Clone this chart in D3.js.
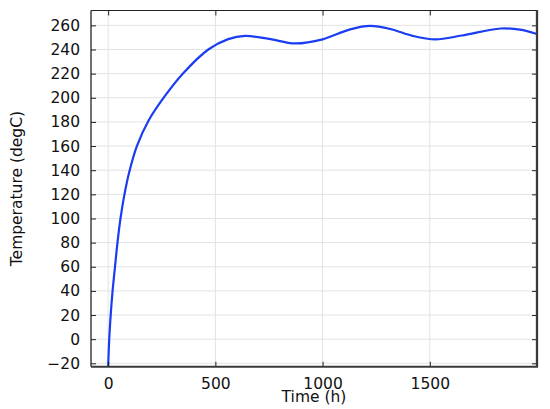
<!DOCTYPE html>
<html>
<head>
<meta charset="utf-8">
<script src="https://cdn.jsdelivr.net/npm/d3@7"></script>
<style>
body { margin: 0; background: #fff; }
text { font-family: "DejaVu Sans", sans-serif; fill: #111; }
</style>
</head>
<body>
<script>
// values
var timeH = [0, 5, 12, 21, 32, 43.5, 57.5, 76, 99, 134, 190, 265, 350, 467, 560, 639, 750, 872, 1000, 1129, 1223, 1320, 1420, 1526, 1650, 1830, 1920, 2000];
var tempC = [-23, 0, 20.6, 40.7, 60, 80, 100, 120, 139, 160, 181.6, 201.5, 220.3, 240, 248.6, 251.2, 248.8, 245, 248.4, 256.7, 259.5, 256.8, 251.3, 248.4, 251.6, 257.4, 256.4, 252.8];
var xTicks = [0, 500, 1000, 1500];
var yTicks = [-20, 0, 20, 40, 60, 80, 100, 120, 140, 160, 180, 200, 220, 240, 260];

var width = 550;
var height = 409;
// plot box (window.top is reserved, so use pTop etc.)
var pLeft = 91, pRight = 537, pTop = 10.5, pBottom = 366.7;

var svg = d3.select("body").append("svg")
  .attr("width", width)
  .attr("height", height);

var x = d3.scaleLinear()
  .domain([-80, 2000])
  .range([pLeft, pRight]);

var y = d3.scaleLinear()
  .domain([-22.8, 272.3])
  .range([pBottom, pTop]);

// grid
svg.append("g")
  .selectAll("line")
  .data(xTicks)
  .enter().append("line")
  .attr("x1", function (d) { return x(d); })
  .attr("x2", function (d) { return x(d); })
  .attr("y1", pTop)
  .attr("y2", pBottom)
  .attr("stroke", "#e3e3e3")
  .attr("stroke-width", 1);

svg.append("g")
  .selectAll("line")
  .data(yTicks)
  .enter().append("line")
  .attr("x1", pLeft)
  .attr("x2", pRight)
  .attr("y1", function (d) { return y(d); })
  .attr("y2", function (d) { return y(d); })
  .attr("stroke", "#e3e3e3")
  .attr("stroke-width", 1);

// curve
svg.append("clipPath")
  .attr("id", "plotclip")
  .append("rect")
  .attr("x", pLeft)
  .attr("y", pTop)
  .attr("width", pRight - pLeft)
  .attr("height", pBottom - pTop);

var line = d3.line()
  .x(function (d, i) { return x(timeH[i]); })
  .y(function (d) { return y(d); })
  .curve(d3.curveCatmullRom.alpha(0.5));

svg.append("path")
  .datum(tempC)
  .attr("clip-path", "url(#plotclip)")
  .attr("d", line)
  .attr("fill", "none")
  .attr("stroke", "#1a3cf2")
  .attr("stroke-width", 2.2);

// axes, ticks pointing inwards
var fmt = d3.format("d");

svg.append("g")
  .attr("transform", "translate(0," + pBottom + ")")
  .call(d3.axisBottom(x).tickValues(xTicks).tickFormat(fmt).tickSizeInner(-5).tickSizeOuter(0).tickPadding(11))
  .call(function (g) {
    g.select(".domain").remove();
    g.selectAll("text").style("font-size", "15.5px");
  });

svg.append("g")
  .attr("transform", "translate(0," + pTop + ")")
  .call(d3.axisTop(x).tickValues(xTicks).tickSizeInner(-5).tickSizeOuter(0).tickFormat(""))
  .call(function (g) { g.select(".domain").remove(); });

svg.append("g")
  .attr("transform", "translate(" + pLeft + ",0)")
  .call(d3.axisLeft(y).tickValues(yTicks).tickFormat(fmt).tickSizeInner(-5).tickSizeOuter(0).tickPadding(11))
  .call(function (g) {
    g.select(".domain").remove();
    g.selectAll("text").style("font-size", "15.5px");
  });

svg.append("g")
  .attr("transform", "translate(" + pRight + ",0)")
  .call(d3.axisRight(y).tickValues(yTicks).tickSizeInner(-5).tickSizeOuter(0).tickFormat(""))
  .call(function (g) { g.select(".domain").remove(); });

svg.selectAll(".tick line").attr("stroke", "#222");

// frame
svg.append("line").attr("x1", pLeft).attr("x2", pRight).attr("y1", pTop).attr("y2", pTop)
  .attr("stroke", "#222").attr("stroke-width", 1);
svg.append("line").attr("x1", pLeft).attr("x2", pLeft).attr("y1", pTop).attr("y2", pBottom)
  .attr("stroke", "#222").attr("stroke-width", 1.3);
svg.append("line").attr("x1", pLeft).attr("x2", pRight + 1).attr("y1", pBottom).attr("y2", pBottom)
  .attr("stroke", "#3a3a3a").attr("stroke-width", 2);
svg.append("line").attr("x1", pRight).attr("x2", pRight).attr("y1", pTop - 0.5).attr("y2", pBottom)
  .attr("stroke", "#3a3a3a").attr("stroke-width", 2.3);

// titles
svg.append("text")
  .attr("x", (pLeft + pRight) / 2)
  .attr("y", 401.5)
  .attr("text-anchor", "middle")
  .style("font-size", "15.5px")
  .text("Time (h)");

svg.append("text")
  .attr("transform", "translate(22," + ((pTop + pBottom) / 2) + ") rotate(-90)")
  .attr("text-anchor", "middle")
  .style("font-size", "15.5px")
  .text("Temperature (degC)");
</script>
</body>
</html>
